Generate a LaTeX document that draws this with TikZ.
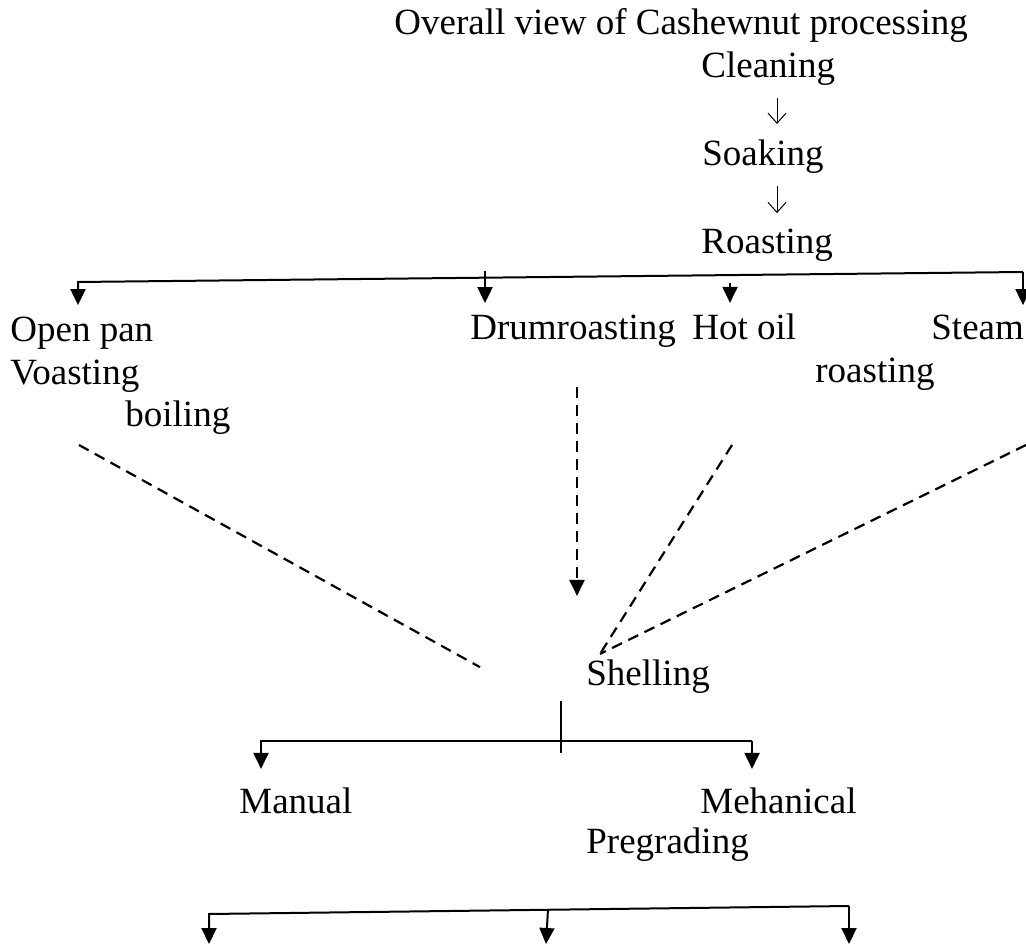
\documentclass[tikz,border=0pt]{standalone}
\usepackage{fontspec}
\setmainfont{Liberation Serif}
\usetikzlibrary{arrows.meta}
\tikzset{
  lbl/.style={anchor=base west, inner sep=0pt, font=\fontsize{18.5}{22}\selectfont},
  bus/.style={line width=1pt},
  drop/.style={line width=1pt, -{Triangle[length=8pt,width=7.5pt]}},
  dashline/.style={line width=1.1pt, dash pattern=on 5.5pt off 3.5pt},
  glypharrow/.style={line width=0.5pt, -{Straight Barb[length=5pt,width=9pt]}}
}
\begin{document}
\begin{tikzpicture}[x=0.5pt,y=-0.5pt]
	\useasboundingbox (0,0) rectangle (1026,945);
	\node[lbl] (title) at (394,35) {Overall view of Cashewnut processing};
	\node[lbl] (cleaning) at (701,78) {Cleaning};
	\node[lbl] (soaking) at (702,166) {Soaking};
	\node[lbl] (roasting) at (701,254) {Roasting};
	\node[lbl] (openpan) at (10,342) {Open pan};
	\node[lbl] (voasting) at (10,385) {Voasting};
	\node[lbl] (boiling) at (125,427) {boiling};
	\node[lbl] (drum) at (470,340) {Drumroasting};
	\node[lbl] (hotoil) at (692,340) {Hot oil};
	\node[lbl] (steam) at (931,340) {Steam};
	\node[lbl] (steamroast) at (815,383) {roasting};
	\node[lbl] (shelling) at (586,685) {Shelling};
	\node[lbl] (manual) at (239,813) {Manual};
	\node[lbl] (mehanical) at (700,813) {Mehanical};
	\node[lbl] (pregrading) at (586,853) {Pregrading};
	\coordinate (stem) at (777,0);
	\coordinate (busL) at (78,282);
	\coordinate (busR) at (1023,272);
	\coordinate (drumtop) at (485,271);
	\coordinate (oiltop) at (730,283);
	\coordinate (panfoot) at (79,445);
	\coordinate (drumfoot) at (577,387);
	\coordinate (oilfoot) at (732,445);
	\coordinate (steamfoot) at (1026,445);
	\coordinate (manL) at (261,741);
	\coordinate (mechR) at (752,741);
	\coordinate (gradeL) at (209,914);
	\coordinate (gradeM) at (548,909);
	\coordinate (gradeR) at (849,906);
	\coordinate (endL) at (209,944);
	\coordinate (endM) at (546,944);
	\coordinate (endR) at (849,944);
	% steps
	\draw[glypharrow] ([yshift=-6pt]cleaning.south -| stem) -- ([yshift=8pt]soaking.north -| stem);
	\draw[glypharrow] ([yshift=-6pt]soaking.south -| stem) -- ([yshift=8pt]roasting.north -| stem);
	% roasting methods
	\draw[drop] (busR) -- (busL) -- ([yshift=6pt]openpan.north -| busL);
	\draw[drop] (busR) -- ([yshift=5pt]steam.north -| busR);
	\draw[drop] (drumtop) -- ([yshift=6pt]drum.north -| drumtop);
	\draw[drop] (oiltop) -- ([yshift=5.5pt]hotoil.north -| oiltop);
	% into shelling
	\draw[dashline] (panfoot) -- ([shift={(-106,-9)}]shelling.west);
	\draw[dashline,-{Triangle[length=8pt,width=7.5pt]}] (drumfoot) -- ([yshift=31.5pt]shelling.north -| drumfoot);
	\draw[dashline] (oilfoot) -- ([shift={(14,-5)}]shelling.north west);
	\draw[dashline] (steamfoot) -- ([shift={(14,-5)}]shelling.north west);
	% shelling
	\draw[bus] ([shift={(-25,8)}]shelling.south west) -- ++(0,52);
	\draw[drop] (mechR) -- (manL) -- ([yshift=9pt]manual.north -| manL);
	\draw[drop] (mechR) -- ([yshift=9pt]mehanical.north -| mechR);
	% grading
	\draw[drop] (gradeR) -- (gradeL) -- (endL);
	\draw[drop] (gradeM) -- (endM);
	\draw[drop] (gradeR) -- (endR);
\end{tikzpicture}
\end{document}
